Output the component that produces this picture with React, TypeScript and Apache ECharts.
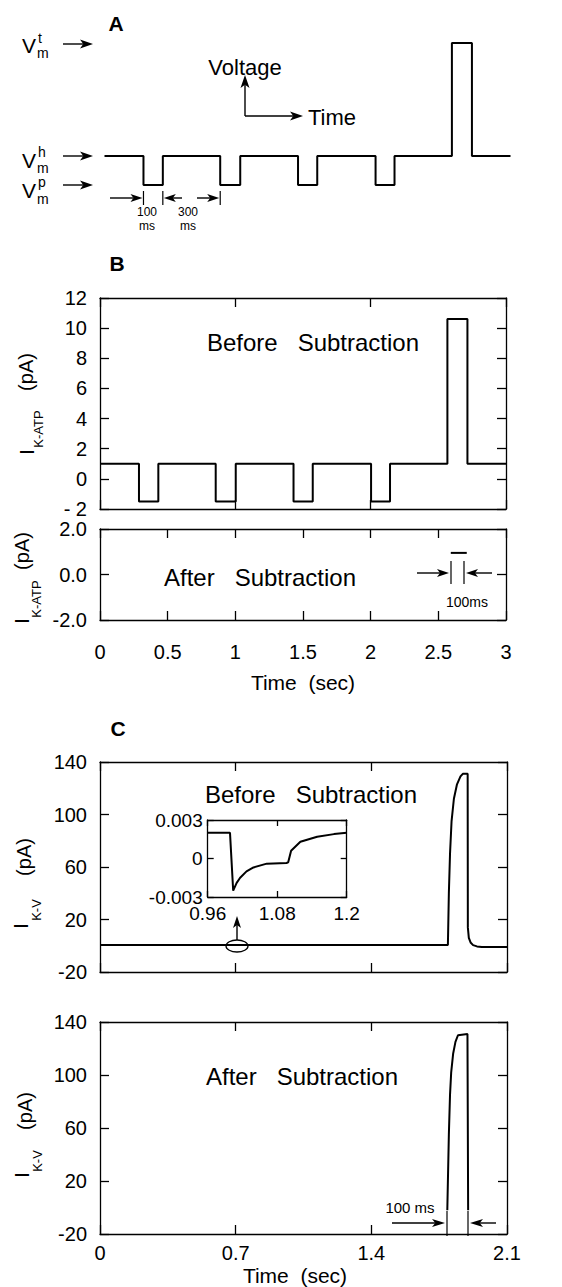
import React, { useEffect, useRef } from "react";
import * as echarts from "echarts";

const FONT = "'Liberation Sans', Arial, Helvetica, sans-serif";
const K = "#000";

// ---- Protocol timing shared by panels A and B (s) ----
const stepStarts = [0.288, 0.855, 1.43, 2.003];
const stepEnds = [0.431, 1.003, 1.572, 2.143];
const testPulse = [2.567, 2.715];
const protocolEnd = 3;

// Panel A voltage levels (arbitrary units)
const vHold = 0;
const vPre = -1;
const vTest = 3.9;

// Panel B, before subtraction (pA)
const iHold = 1.0;
const iPre = -1.5;
const iTest = 10.6;

// Panel B, after subtraction
const bAfterT = [2.592, 2.71];
const bAfterI = [0.95, 0.95];

// Panel C, before subtraction
const cBeforeT = [0, 1.795, 1.8, 1.806, 1.814, 1.826, 1.842, 1.86, 1.872, 1.897, 1.898, 1.903, 1.912, 1.925, 1.945, 1.97, 2.1];
const cBeforeI = [0.5, 0.5, 40, 70, 95, 112, 123, 129, 131, 131, 14, 6, 2.5, 0.5, -0.5, -1, -1];

// Panel C, after subtraction
const cAfterT = [1.792, 1.8, 1.806, 1.812, 1.822, 1.834, 1.847, 1.896, 1.899, 1.8995];
const cAfterI = [-2, 55, 85, 102, 116, 125, 130, 131, 131, -2];

// Panel C inset
const insetT = [0.96, 0.9985, 1.004, 1.01, 1.016, 1.027, 1.039, 1.062, 1.096, 1.099, 1.104, 1.12, 1.149, 1.178, 1.2];
const insetI = [0.002, 0.002, -0.0025, -0.0019, -0.0015, -0.001, -0.0007, -0.0004, -0.00035, -0.0003, 0.0006, 0.0013, 0.0017, 0.0019, 0.002];

function stepTrace(hold: number, pre: number, test: number): number[][] {
  const pts: number[][] = [[0, hold]];
  stepStarts.forEach((s, i) => {
    pts.push([s, hold], [s, pre], [stepEnds[i], pre], [stepEnds[i], hold]);
  });
  pts.push([testPulse[0], hold], [testPulse[0], test], [testPulse[1], test], [testPulse[1], hold]);
  pts.push([protocolEnd, hold]);
  return pts;
}
const zip = (a: number[], b: number[]) => a.map((v, i) => [v, b[i]]);

// layout
const gA = { left: 104.5, top: 37.2, width: 406, height: 153.6 };
const gB1 = { left: 100, top: 298, width: 406, height: 211 };
const gB2 = { left: 100, top: 529, width: 406, height: 91 };
const gC1 = { left: 100, top: 762, width: 407, height: 210 };
const gC2 = { left: 100, top: 1022, width: 407, height: 212 };
const gIn = { left: 207.7, top: 820, width: 139, height: 77 };

function arrow(x1: number, y1: number, x2: number, y2: number, hl = 13, hw = 4.5, lw = 1.4): any[] {
  const dx = x2 - x1, dy = y2 - y1;
  const L = Math.hypot(dx, dy);
  const ux = dx / L, uy = dy / L;
  const bx = x2 - ux * hl, by = y2 - uy * hl;
  const px = -uy, py = ux;
  return [
    { type: "line", shape: { x1, y1, x2: bx + ux * 3, y2: by + uy * 3 }, style: { stroke: K, lineWidth: lw } },
    {
      type: "polygon",
      shape: { points: [[x2, y2], [bx + px * hw, by + py * hw], [bx + ux * hl * 0.25, by + uy * hl * 0.25], [bx - px * hw, by - py * hw]] },
      style: { fill: K },
    },
  ];
}
function vbar(x: number, y1: number, y2: number): any {
  return { type: "line", shape: { x1: x, y1, x2: x, y2 }, style: { stroke: K, lineWidth: 1.2 } };
}
function txt(x: number, y: number, text: string, fontSize: number, o: any = {}): any {
  return {
    type: "text",
    x,
    y,
    rotation: o.rot || 0,
    style: {
      text,
      fontSize,
      fontFamily: FONT,
      fontWeight: o.weight || "normal",
      fill: K,
      align: o.align || "center",
      verticalAlign: "middle",
    },
  };
}
function yName(xI: number, yI: number, sub: string, xS: number, yS: number, xP: number, yP: number): any[] {
  const R = Math.PI / 2;
  return [
    txt(xI, yI, "I", 21, { rot: R }),
    txt(xS, yS, sub, 13, { rot: R }),
    txt(xP, yP, "(pA)", 20, { rot: R }),
  ];
}

export default function App() {
  const ref = useRef<HTMLDivElement>(null);
  useEffect(() => {
    if (!ref.current) return;
    const chart = echarts.init(ref.current, null, { renderer: "svg" });

    const lineStyle = { color: K, width: 1.3 };
    const grids: any[] = [];
    const xAxes: any[] = [];
    const yAxes: any[] = [];
    const series: any[] = [];

    const addPanel = (g: any, xs: any, ys: any, data: number[][], lw = 2) => {
      const gi = grids.length;
      grids.push({ ...g, show: false });
      const tickLen = xs.tickLen ?? 9;
      const baseX = {
        gridIndex: gi,
        type: "value",
        min: xs.min,
        max: xs.max,
        interval: xs.interval,
        show: xs.show !== false,
        axisLine: { show: true, onZero: false, lineStyle },
        axisTick: { show: true, inside: true, length: tickLen, lineStyle },
        splitLine: { show: false },
      };
      const xi = xAxes.length;
      xAxes.push({
        ...baseX,
        position: "bottom",
        axisLabel: {
          show: !!xs.labels,
          margin: xs.margin ?? 10,
          fontSize: xs.fontSize ?? 20,
          fontFamily: FONT,
          color: K,
          formatter: xs.formatter,
        },
      });
      xAxes.push({ ...baseX, position: "top", axisLabel: { show: false } });
      const baseY = {
        gridIndex: gi,
        type: "value",
        min: ys.min,
        max: ys.max,
        interval: ys.interval,
        show: ys.show !== false,
        axisLine: { show: true, onZero: false, lineStyle },
        axisTick: { show: true, inside: true, length: tickLen, lineStyle },
        splitLine: { show: false },
      };
      const yi = yAxes.length;
      yAxes.push({
        ...baseY,
        position: "left",
        axisLabel: {
          show: ys.labels !== false,
          margin: ys.margin ?? 13,
          fontSize: ys.fontSize ?? 20,
          fontFamily: FONT,
          color: K,
          formatter: ys.formatter,
        },
      });
      yAxes.push({ ...baseY, position: "right", axisLabel: { show: false } });
      series.push({
        type: "line",
        xAxisIndex: xi,
        yAxisIndex: yi,
        data,
        showSymbol: false,
        symbol: "none",
        clip: false,
        lineStyle: { color: K, width: lw },
        z: 5,
      });
    };

    // Panel A (no axes)
    addPanel(gA, { min: 0, max: 3, show: false }, { min: -1.2, max: 4.1, show: false }, stepTrace(vHold, vPre, vTest));
    // Panel B, before
    addPanel(
      gB1,
      { min: 0, max: 3, interval: 1 },
      { min: -2, max: 12, interval: 2, formatter: (v: number) => (v < 0 ? "- " + Math.abs(v) : String(v)) },
      stepTrace(iHold, iPre, iTest)
    );
    // Panel B, after
    addPanel(
      gB2,
      { min: 0, max: 3, interval: 0.5, labels: true, margin: 22 },
      { min: -2, max: 2, interval: 2, formatter: (v: number) => v.toFixed(1) },
      zip(bAfterT, bAfterI)
    );
    // Panel C, before
    addPanel(
      gC1,
      { min: 0, max: 2.1, interval: 0.7 },
      { min: -20, max: 140, interval: 40 },
      zip(cBeforeT, cBeforeI)
    );
    // Panel C, after
    addPanel(
      gC2,
      { min: 0, max: 2.1, interval: 0.7, labels: true, margin: 9, formatter: (v: number) => String(Number(v.toFixed(2))) },
      { min: -20, max: 140, interval: 40 },
      zip(cAfterT, cAfterI)
    );
    // Inset
    addPanel(
      gIn,
      { min: 0.96, max: 1.2, interval: 0.12, labels: true, margin: 7, fontSize: 19, tickLen: 6, formatter: (v: number) => String(Number(v.toFixed(2))) },
      { min: -0.003, max: 0.003, interval: 0.003, margin: 5, fontSize: 19, formatter: (v: number) => (Math.abs(v) < 1e-9 ? "0" : v.toFixed(3)) },
      zip(insetT, insetI)
    );
    yAxes[yAxes.length - 1].axisTick.length = 6;
    yAxes[yAxes.length - 2].axisTick.length = 6;

    const xA = (t: number) => gA.left + (t / 3) * gA.width;

    const graphics: any[] = [
      // Panel A
      txt(116, 23, "A", 21, { weight: "bold" }),
      txt(29, 45, "V", 21),
      txt(38, 38, "t", 14, { align: "left" }),
      txt(37, 53, "m", 14, { align: "left" }),
      ...arrow(63, 44, 93, 44),
      txt(29, 160, "V", 21),
      txt(38, 152, "h", 14, { align: "left" }),
      txt(37, 168, "m", 14, { align: "left" }),
      ...arrow(63, 156, 93, 156),
      txt(29, 190, "V", 21),
      txt(38, 182, "p", 14, { align: "left" }),
      txt(37, 199, "m", 14, { align: "left" }),
      ...arrow(63, 185, 93, 185),
      txt(245, 67, "Voltage", 22),
      ...arrow(245, 116, 245, 75),
      ...arrow(245, 116, 303, 116),
      txt(308, 117, "Time", 22, { align: "left" }),
      ...arrow(110, 198, xA(stepStarts[0]) - 1, 198, 12, 4),
      vbar(xA(stepStarts[0]), 191, 205),
      vbar(xA(stepEnds[0]), 191, 205),
      ...arrow(182, 198, xA(stepEnds[0]) + 1, 198, 12, 4),
      ...arrow(197, 198, xA(stepStarts[1]) - 1, 198, 12, 4),
      vbar(xA(stepStarts[1]), 191, 205),
      txt(147, 212, "100", 12),
      txt(147, 226, "ms", 12),
      txt(188, 212, "300", 12),
      txt(188, 226, "ms", 12),
      // Panel B
      txt(117, 263, "B", 21, { weight: "bold" }),
      txt(313, 342, "Before   Subtraction", 24),
      ...yName(26, 452, "K-ATP", 38, 429, 26, 372),
      txt(260, 577, "After   Subtraction", 24),
      ...arrow(417, 573, 449, 573, 12, 4),
      vbar(451, 561, 584),
      vbar(464, 561, 584),
      ...arrow(492, 573, 466, 573, 12, 4),
      txt(467, 602, "100ms", 14),
      ...yName(21, 621, "K-ATP", 36, 599, 22, 551),
      txt(303, 682, "Time  (sec)", 21),
      // Panel C
      txt(118, 728, "C", 21, { weight: "bold" }),
      txt(311, 794, "Before   Subtraction", 24),
      { type: "ellipse", shape: { cx: 237, cy: 946, rx: 11, ry: 6 }, style: { stroke: K, fill: "none", lineWidth: 1.3 }, z: 10 },
      ...arrow(237, 940, 237, 916, 12, 4),
      ...yName(20, 926, "K-V", 36, 910, 24, 857),
      txt(302, 1076, "After   Subtraction", 24),
      txt(410, 1207, "100 ms", 15),
      ...arrow(392, 1223, 445, 1223, 13, 4),
      vbar(447, 1211, 1236),
      vbar(468, 1211, 1236),
      ...arrow(496, 1223, 470, 1223, 13, 4),
      ...yName(21, 1175, "K-V", 37, 1161, 25, 1111),
      txt(295, 1275, "Time  (sec)", 21),
    ];

    chart.setOption({
      animation: false,
      backgroundColor: "#fff",
      grid: grids,
      xAxis: xAxes,
      yAxis: yAxes,
      series,
      graphic: { elements: graphics },
    });
    return () => chart.dispose();
  }, []);
  return <div ref={ref} style={{ position: "absolute", left: 0, top: 0, width: 562, height: 1287 }} />;
}
